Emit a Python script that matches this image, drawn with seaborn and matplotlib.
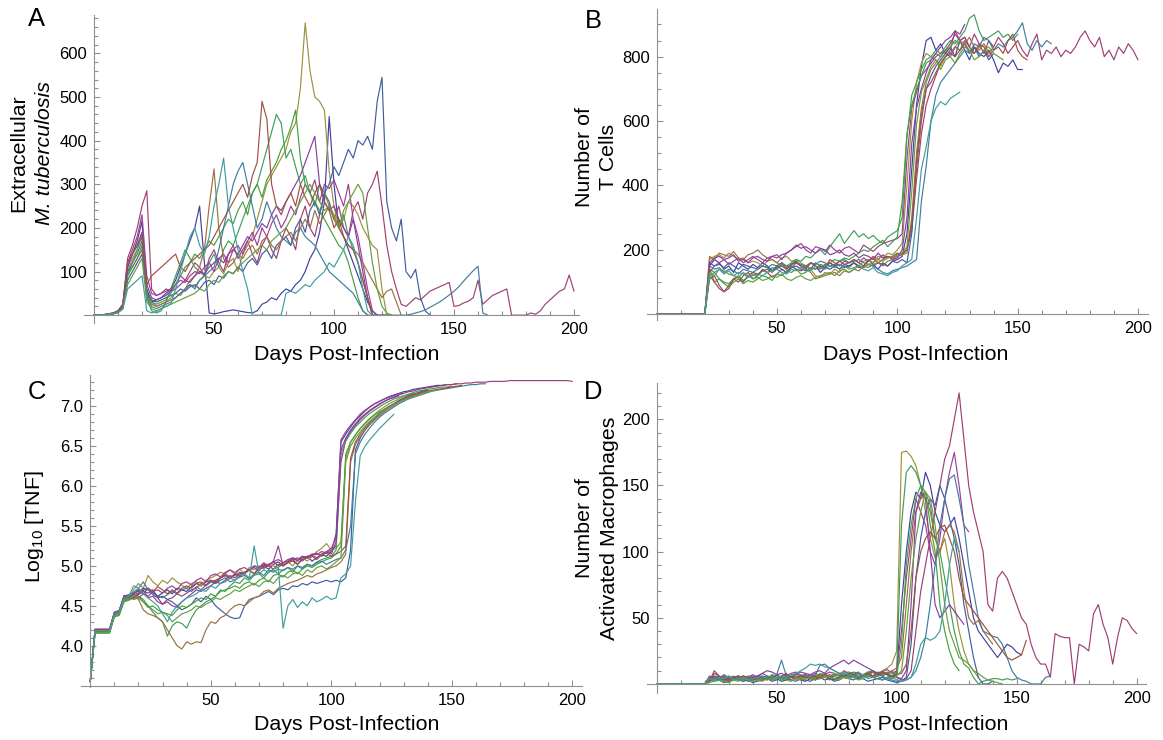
import colorsys
import matplotlib
matplotlib.use("Agg")
import matplotlib.pyplot as plt
from matplotlib.ticker import FixedLocator, FormatStrFormatter
import pandas as pd
import seaborn as sns

# ---------------- data ----------------
DAYS = list(range(0, 201, 2))          # sampling grid, every 2 days
RUNS = [f"run{i}" for i in range(13)]
HUES = [0.670, 0.906, 0.142, 0.378, 0.614, 0.850, 0.086, 0.322, 0.559, 0.795, 0.031, 0.267, 0.503]

# Panel A: extracellular M. tuberculosis
mtb_0 = [0,0,1,2,4,8,22,110,140,170, 215,60,30,35,40,50,60,80,110,140, 170,200,250,120,5,3,5,8,10,12,
         10,8,6,5,10,25,30,40,35,50, 60,55,70,80,100,130,150,190,260,455, 300,200,180,150,120,90,60,30,10,0, 0,0,0]
mtb_1 = [0,0,1,3,5,10,25,130,160,200, 250,285,60,45,50,60,55,70,90,80, 100,120,110,90,130,150,120,100,140,160,
         130,150,170,140,120,160,180,150,130,170, 200,180,150,220,250,200,180,230,280,260,
         220,250,200,180,240,260,220,280,300,330, 250,160,100,60,25,20,30,40,35,45,
         55,60,65,70,75,20,22,28,32,40, 80,25,35,45,50,55,60,0,0,0, 0,5,2,10,25,35,45,55,60,92, 55]
mtb_2 = [0,0,1,2,4,9,20,100,130,150, 180,50,30,20,25,30,40,50,45,60, 70,65,80,90,85,100,110,95,120,130,
         100,140,160,180,220,260,300,320,340,360, 380,420,440,520,670,560,500,490,470,330,
         250,200,220,260,250,230,200,180,160,150, 60,0,0]
mtb_3 = [0,0,1,2,4,7,18,90,110,130, 160,40,10,5,10,30,60,90,120,150, 130,110,100,90,120,140,110,150,170,160,
         190,220,250,280,300,340,380,420,460,440, 360,380,340,300,320,280,250,300,280,250,
         220,200,230,180,150,120,80,40,0,0]
mtb_4 = [0,0,1,2,3,6,15,80,100,120, 140,50,35,30,35,40,45,50,60,55, 65,70,60,75,80,70,90,85,100,95,
         110,100,120,130,115,140,150,130,160,170, 180,160,200,220,190,240,260,230,280,300,
         340,320,350,380,360,400,390,410,380,490, 545,260,200,170,220,100,85,105,40,10, 0]
mtb_5 = [0,0,1,3,5,9,22,120,150,180, 230,90,50,45,50,55,60,70,80,75, 90,100,95,110,120,100,130,140,120,150,
         160,140,170,190,160,200,180,210,230,200, 220,250,230,270,300,280,310,260,300,290,
         310,280,250,300,220,180,120,60,10,0]
mtb_6 = [0,0,1,2,4,8,20,100,110,130, 150,45,25,20,25,30,35,40,50,60, 80,90,110,150,250,335,200,130,110,120,
         140,130,150,160,140,170,180,160,150,170, 180,190,170,200,220,200,240,210,230,250,
         220,200,180,160,150,140,120,100,80,60, 40,55,60,30,0]
mtb_7 = [0,0,1,2,3,6,15,90,120,150, 190,45,30,25,30,35,50,70,90,110, 120,140,130,150,170,160,180,200,220,210,
         240,260,230,280,300,270,310,330,350,380, 400,430,470,360,300,280,260,240,220,200,
         180,160,150,120,80,40,10,0]
mtb_8 = [0,0,1,2,4,8,20,100,120,140, 170,40,20,15,20,25,30,40,50,60, 70,60,80,90,100,110,150,200,250,300,
         330,350,300,250,200,220,260,230,200,180, 170,160,190,200,180,170,160,140,120,100,
         90,80,70,60,50,30,10,0,0,0, 0,0,0,0,0,0,2,5,8,12, 18,24,30,38,46,55,65,78,90,102, 112,5,0]
mtb_9 = [0,0,1,2,4,8,20,110,140,160, 190,70,40,35,40,45,55,60,70,80, 75,90,100,95,110,120,130,120,140,150,
         140,160,180,170,190,210,200,230,250,240, 260,280,300,320,350,380,410,300,260,240,
         250,220,200,180,220,160,100,40,0,0]
mtb_10 = [0,0,1,3,5,10,25,120,140,160, 180,70,90,100,110,120,130,140,110,100, 120,130,140,150,160,180,200,220,240,260,
          280,300,270,320,350,490,450,300,250,230, 260,280,250,300,270,250,280,300,260,240,
          200,220,180,160,150,120,80,40,0,0]
mtb_11 = [0,0,1,2,3,6,15,70,90,110, 130,30,15,10,15,20,25,30,35,40, 45,50,60,55,70,80,75,90,100,95,
          110,120,130,140,150,160,150,170,180,190, 200,220,240,260,280,300,280,260,240,250,
          230,200,240,260,280,300,280,200,120,60, 20,5,0]
mtb_12 = [0,0,1,2,3,6,14,60,70,80, 90,10,5,8,15,20,25,60,100,140, 180,200,160,140,180,250,300,360,250,200,
          150,100,60,0,0,0,0,0,0,0, 50,55,50,60,70,65,80,90,100,120, 110,130,150,180,160,120,60,10,0,0]

# Panel B: number of T cells
tcell_0 = [0,0,0,0,0,0,0,0,0,0,0, 150,170,160,140,150,130,160,150,140,155, 145,160,150,135,150,160,140,155,165,150,
           140,160,150,130,145,160,150,140,155,150, 160,145,150,170,155,140,160,150,165,170,
           180,250,450,650,770,850,860,820,840,810, 830,800,850,820,790,830,810,800,820,790, 750,780,770,790,760,760]
tcell_1 = [0,0,0,0,0,0,0,0,0,0,0, 110,120,90,70,80,110,100,120,130,110, 120,140,130,115,125,140,130,150,140,135,
           150,140,160,150,145,170,160,150,165,160, 170,160,175,165,180,170,185,175,180,190,
           185,200,260,420,560,650,700,740,780,800, 820,880,850,860,830,870,840,810,850,830,
           860,840,810,830,850,820,800,840,870,790, 820,810,830,800,820,810,830,860,880,850,
           830,860,800,820,790,830,810,840,820,790]
tcell_2 = [0,0,0,0,0,0,0,0,0,0,0, 170,180,185,175,190,180,170,175,160,165, 160,150,165,170,160,175,180,165,170,160,
           150,140,120,115,130,125,140,130,150,145, 160,150,165,170,160,180,175,190,185,200,
           220,400,600,720,780,810,800,790,770,800, 810,830,850,840,820,810,830]
tcell_3 = [0,0,0,0,0,0,0,0,0,0,0, 140,130,110,100,95,110,120,105,115,125, 120,135,130,145,140,155,150,160,170,165,
           180,175,190,200,185,210,230,250,220,240, 260,240,250,235,245,230,220,240,250,260,
           300,550,680,720,760,790,800,820,810,830, 850,840,860,880,920,930,880,850,860,870, 880,860,870,850,870]
tcell_4 = [0,0,0,0,0,0,0,0,0,0,0, 160,150,155,145,160,150,140,155,150,145, 140,150,145,135,150,140,130,145,150,140,
           135,145,140,150,145,140,150,155,145,150, 160,150,145,155,150,160,155,150,165,160,
           170,160,250,480,620,700,740,770,790,810, 800,830,820,840,810,830,800,820,790,810]
tcell_5 = [0,0,0,0,0,0,0,0,0,0,0, 130,150,160,170,155,165,175,160,170,180, 170,160,175,180,185,170,190,200,210,220,
           200,190,210,205,195,215,200,190,205,210, 200,190,215,205,195,210,220,225,230,235,
           250,480,640,690,740,760,780,800,810,820, 840,870,850,860,830]
tcell_6 = [0,0,0,0,0,0,0,0,0,0,0, 180,170,190,185,180,195,175,170,185,190, 200,185,175,170,160,150,145,155,160,150,
           140,130,110,115,120,125,130,120,135,130, 140,135,150,145,155,160,150,165,170,180,
           185,190,300,500,640,720,760,780,800,820, 810,830,820,840,860,830,820,840,810,830]
tcell_7 = [0,0,0,0,0,0,0,0,0,0,0, 120,100,110,95,85,100,110,95,105,100, 110,120,115,105,125,120,135,130,140,125,
           130,145,140,155,150,160,170,165,175,170, 180,190,200,195,210,220,230,210,225,240,
           350,560,650,700,740,780,790,810,800,820, 830,850,840]
tcell_8 = [0,0,0,0,0,0,0,0,0,0,0, 150,140,145,130,140,135,125,140,135,130, 140,150,145,155,150,160,150,145,160,155,
           150,160,155,165,160,150,155,165,170,160, 165,170,160,155,150,140,130,125,135,140,
           145,150,160,170,350,460,600,680,720,740, 760,780,800,820,810,840,830,860,850,820,
           840,830,850,860,880,905,840,820,850,830, 850,840]
tcell_9 = [0,0,0,0,0,0,0,0,0,0,0, 160,175,180,170,175,185,165,170,160,175, 180,170,165,180,175,185,190,200,215,205,
           210,200,190,205,200,185,190,200,185,180, 190,175,185,180,170,190,175,180,170,175,
           200,300,530,640,700,750,790,810,830,850, 860,880,870,900]
tcell_10 = [0,0,0,0,0,0,0,0,0,0,0, 140,100,80,70,90,110,115,100,120,130, 125,135,140,130,145,150,140,155,160,150,
            145,160,150,140,155,160,150,165,155,160, 170,160,150,165,175,160,170,180,175,185,
            190,200,280,450,600,700,720,750,780,800, 810,800,820,850,830,810,840,830,800,820, 830,810,850,870,820,800,790]
tcell_11 = [0,0,0,0,0,0,0,0,0,0,0, 130,120,140,135,125,120,115,130,120,110, 115,105,110,120,115,125,110,105,115,120,
            110,105,115,120,125,130,120,135,140,130, 140,150,145,155,160,170,165,175,180,185,
            190,210,380,590,690,730,770,790,760,790, 800,780,810,830,820,790,800,820,830,810, 800,790]
tcell_12 = [0,0,0,0,0,0,0,0,0,0,0, 120,130,140,125,135,120,130,125,115,120, 125,120,130,135,140,130,125,140,135,145,
            140,135,150,145,140,150,145,155,150,140, 145,150,140,135,145,130,125,120,130,135,
            150,160,170,300,450,520,600,640,660,650, 670,680,690]

# Panel C: log10 [TNF]
tnf_0 = [3.55,4.2,4.2,4.2,4.2,4.42,4.44,4.62,4.6,4.65, 4.7,4.65,4.72,4.68,4.62,4.66,4.7,4.65,4.72,4.7,
         4.68,4.74,4.78,4.75,4.8,4.82,4.78,4.85,4.88,4.84, 4.9,4.88,4.92,4.95,4.9,4.98,5.0,4.96,5.02,5.05,
         5.0,5.04,5.08,5.02,5.1,5.12,5.06,5.1,5.14,5.12, 5.18,5.4,6.55,6.65,6.74,6.82,6.88,6.94,6.99,7.03,
         7.06,7.09,7.12,7.14,7.16,7.18,7.19,7.21,7.22,7.23, 7.24,7.25,7.26,7.26,7.27,7.27,7.28]
tnf_1 = [3.55,4.21,4.21,4.21,4.21,4.4,4.42,4.6,4.58,4.62, 4.65,4.7,4.6,4.62,4.55,4.52,4.58,4.6,4.65,4.62,
         4.66,4.7,4.72,4.78,4.75,4.8,4.82,4.85,4.9,4.86, 4.88,4.92,4.9,4.95,5.0,4.98,5.02,5.0,5.05,5.08,
         5.04,5.06,5.1,5.08,5.12,5.1,5.15,5.14,5.18,5.16, 5.2,5.25,6.3,6.58,6.68,6.76,6.83,6.89,6.94,6.98,
         7.02,7.06,7.09,7.11,7.14,7.16,7.18,7.19,7.21,7.22, 7.23,7.24,7.25,7.26,7.27,7.27,7.28,7.28,7.29,7.29,
         7.3,7.3,7.3,7.31,7.31,7.31,7.31,7.32,7.32,7.32, 7.32,7.32,7.32,7.32,7.32,7.32,7.32,7.32,7.32,7.32,7.31]
tnf_2 = [3.55,4.17,4.17,4.17,4.17,4.38,4.4,4.58,4.6,4.7, 4.78,4.72,4.88,4.8,4.75,4.82,4.78,4.85,4.8,4.76,
         4.72,4.78,4.8,4.75,4.82,4.85,4.88,4.92,4.9,4.95, 4.92,4.96,4.9,4.98,4.95,5.0,4.96,5.02,5.0,4.98,
         5.02,5.05,5.0,5.08,5.1,5.06,5.12,5.18,5.22,5.28, 5.2,5.22,5.3,6.35,6.55,6.64,6.72,6.79,6.85,6.9,
         6.95,6.99,7.03,7.06,7.09,7.12,7.14,7.16]
tnf_3 = [3.55,4.16,4.16,4.16,4.16,4.36,4.38,4.55,4.57,4.6, 4.62,4.58,4.5,4.42,4.35,4.3,4.12,4.25,4.3,4.28,
         4.22,4.35,4.45,4.5,4.55,4.58,4.62,4.7,4.68,4.75, 4.8,4.78,4.85,4.82,4.88,4.9,4.85,4.92,4.95,4.9,
         4.95,4.98,4.92,5.0,4.96,5.02,5.0,5.05,5.08,5.1, 5.12,5.2,6.4,6.56,6.66,6.74,6.8,6.86,6.91,6.95,
         6.99,7.03,7.06,7.09,7.11,7.13,7.15,7.17,7.19,7.2, 7.21,7.22,7.23,7.24,7.24,7.25]
tnf_4 = [3.55,4.2,4.2,4.2,4.2,4.4,4.43,4.62,4.64,4.66, 4.68,4.72,4.7,4.64,4.6,4.62,4.58,4.55,4.5,4.45,
         4.48,4.52,4.6,4.55,4.62,4.58,4.5,4.45,4.4,4.36, 4.34,4.35,4.5,4.58,4.6,4.62,4.65,4.68,4.64,4.7,
         4.72,4.7,4.75,4.74,4.78,4.76,4.8,4.78,4.8,4.82, 4.8,4.82,4.8,4.85,5.2,6.45,6.6,6.7,6.78,6.84,
         6.9,6.95,6.99,7.03,7.07,7.1,7.13,7.15,7.17,7.19, 7.2]
tnf_5 = [3.55,4.19,4.19,4.19,4.19,4.41,4.43,4.6,4.62,4.58, 4.6,4.65,4.62,4.68,4.7,4.66,4.72,4.75,4.7,4.78,
         4.8,4.76,4.82,4.85,4.8,4.88,4.9,4.86,4.92,4.95, 4.9,4.96,4.98,4.94,5.0,4.98,5.04,5.0,5.06,5.25,
         5.0,5.05,5.08,5.1,5.06,5.12,5.14,5.1,5.15,5.18, 5.22,5.35,6.58,6.68,6.76,6.83,6.9,6.95,6.99,7.03,
         7.06,7.09,7.11,7.13,7.15,7.16]
tnf_6 = [3.55,4.18,4.18,4.18,4.18,4.39,4.41,4.58,4.6,4.62, 4.58,4.45,4.4,4.38,4.35,4.3,4.2,4.1,4.0,3.96,
         4.05,4.02,4.05,4.04,4.2,4.3,4.28,4.35,4.38,4.45, 4.5,4.52,4.5,4.55,4.6,4.62,4.68,4.7,4.66,4.72,
         4.75,4.78,4.8,4.82,4.85,4.88,4.86,4.9,4.92,4.95, 4.98,5.0,5.05,5.15,6.3,6.52,6.62,6.7,6.77,6.83,
         6.88,6.93,6.97,7.01,7.05,7.08,7.11,7.13,7.15,7.17, 7.18]
tnf_7 = [3.55,4.16,4.16,4.16,4.16,4.37,4.39,4.56,4.58,4.6, 4.62,4.55,4.48,4.5,4.45,4.42,4.4,4.38,4.45,4.5,
         4.48,4.52,4.56,4.6,4.58,4.65,4.62,4.68,4.7,4.72, 4.75,4.72,4.78,4.8,4.76,4.82,4.85,4.8,4.88,4.9,
         4.86,4.92,4.95,4.9,4.96,5.0,4.98,5.02,5.05,5.08, 5.1,5.15,5.25,6.4,6.55,6.64,6.72,6.78,6.84,6.89,
         6.93,6.96,6.99,7.02]
tnf_8 = [3.55,4.2,4.2,4.2,4.2,4.42,4.44,4.61,4.63,4.67, 4.72,4.8,4.7,4.66,4.62,4.6,4.64,4.68,4.65,4.7,
         4.72,4.68,4.74,4.7,4.76,4.8,4.78,4.82,4.85,4.8, 4.82,4.86,4.88,4.84,4.9,4.92,4.88,4.95,4.92,4.96,
         4.94,4.98,4.96,5.0,4.98,5.02,5.0,5.04,5.06,5.02, 5.05,5.08,5.1,5.2,5.5,6.4,6.55,6.65,6.73,6.8,
         6.86,6.91,6.95,6.99,7.03,7.06,7.09,7.11,7.13,7.15, 7.17,7.19,7.2,7.21,7.22,7.23,7.24,7.25,7.26,7.27,
         7.27,7.28,7.28]
tnf_9 = [3.55,4.2,4.2,4.2,4.2,4.41,4.43,4.63,4.62,4.6, 4.64,4.68,4.66,4.7,4.6,4.52,4.55,4.5,4.48,4.55,
         4.6,4.65,4.7,4.68,4.72,4.75,4.8,4.78,4.82,4.88, 4.85,4.9,4.92,4.95,4.98,4.94,5.0,5.02,5.05,5.0,
         5.04,5.08,5.1,5.06,5.12,5.1,5.14,5.16,5.12,5.18, 5.15,5.3,6.45,6.6,6.7,6.78,6.85,6.9,6.95,6.99,
         7.03,7.06,7.09,7.11,7.13]
tnf_10 = [3.55,4.18,4.18,4.18,4.18,4.4,4.42,4.59,4.61,4.64, 4.66,4.7,4.72,4.68,4.74,4.7,4.65,4.7,4.66,4.72,
          4.75,4.72,4.78,4.8,4.76,4.82,4.8,4.85,4.88,4.84, 4.9,4.86,4.92,4.95,4.9,4.96,4.98,5.0,4.96,5.02,
          5.0,5.04,5.06,5.02,5.08,5.1,5.12,5.08,5.14,5.16, 5.12,5.15,5.18,5.25,6.35,6.55,6.65,6.73,6.8,6.86,
          6.91,6.96,7.0,7.03,7.06,7.09,7.12,7.14,7.16,7.18, 7.19,7.2,7.21,7.22,7.23,7.24,7.25,7.26]
tnf_11 = [3.55,4.17,4.17,4.17,4.17,4.37,4.4,4.57,4.59,4.62, 4.6,4.55,4.5,4.45,4.4,4.42,4.38,4.3,4.35,4.4,
          4.42,4.45,4.5,4.48,4.52,4.55,4.6,4.58,4.62,4.65, 4.7,4.68,4.72,4.75,4.78,4.74,4.8,4.82,4.78,4.85,
          4.88,4.85,4.9,4.92,4.88,4.95,4.92,4.98,5.0,4.96, 5.0,5.05,5.1,6.3,6.5,6.6,6.68,6.75,6.81,6.86,
          6.91,6.95,6.99,7.02,7.05,7.08,7.1,7.12,7.14,7.16, 7.18,7.19,7.2]
tnf_12 = [3.55,4.19,4.19,4.19,4.19,4.4,4.42,4.6,4.62,4.75, 4.72,4.65,4.6,4.55,4.5,4.4,4.3,4.42,4.5,4.55,
          4.6,4.62,4.65,4.7,4.68,4.75,4.72,4.78,4.8,4.85, 4.82,4.88,4.9,4.85,5.25,4.9,4.95,4.92,4.96,4.98,
          4.22,4.5,4.58,4.48,4.55,4.5,4.6,4.55,4.58,4.62, 4.58,4.6,4.85,4.9,5.0,5.8,6.38,6.5,6.58,6.65,
          6.72,6.78,6.84,6.9]

# Panel D: number of activated macrophages
mac_0 = [0,0,0,0,0,0,0,0,0,0,0, 5,3,4,6,2,3,5,4,2,3, 4,3,5,6,4,2,3,5,4,3, 2,4,3,5,6,4,3,5,7,6,
         5,4,6,8,5,4,3,5,6,8, 60,100,130,145,140,160,150,130,120,115, 120,126,110,90,70,50,40,35,30,25, 20,25,30,28,24,22]
mac_1 = [0,0,0,0,0,0,0,0,0,0,0, 2,8,6,4,3,5,6,4,3,5, 6,4,5,3,4,6,8,5,4,6, 7,5,6,4,5,7,6,8,5,6,
         7,5,6,8,9,7,6,8,10,5, 3,4,10,40,70,90,110,130,150,170, 180,200,220,185,150,130,115,100,60,55,
         80,85,80,70,60,50,45,30,20,15, 15,5,38,36,35,35,0,30,28,25, 53,60,45,35,15,35,50,48,42,38]
mac_2 = [0,0,0,0,0,0,0,0,0,0,0, 3,5,4,2,6,5,3,4,5,6, 4,3,6,5,7,4,5,3,6,4, 5,7,6,4,5,3,6,8,5,4,
         6,5,7,9,6,8,10,12,15,25, 175,176,172,165,150,130,110,95,100,110, 90,60,40,25,15,10,5]
mac_3 = [0,0,0,0,0,0,0,0,0,0,0, 4,2,3,5,4,6,3,2,4,5, 3,5,4,6,5,3,4,6,5,7, 6,4,5,7,8,5,6,4,7,5,
         6,8,5,7,6,9,8,7,5,10, 120,160,165,160,150,140,130,110,100,80, 60,40,25,15,12,5,0,2,3,4, 4,3,4,3,4]
mac_4 = [0,0,0,0,0,0,0,0,0,0,0, 2,4,3,1,2,3,4,2,3,1, 2,3,4,2,3,5,4,3,2,4, 3,2,4,5,3,4,2,3,5,4,
         3,5,4,2,3,4,5,3,2,1, 2,5,30,80,110,130,140,135,150,140, 125,110,90,60,40,20,5,0,0,2]
mac_5 = [0,0,0,0,0,0,0,0,0,0,0, 6,5,4,7,5,3,6,4,5,7, 5,8,6,4,7,5,6,8,9,6, 7,5,8,6,7,9,8,6,10,8,
         7,9,6,8,10,7,9,11,8,10, 40,80,110,140,130,120,100,90,110,140, 160,175,150,120,115]
mac_6 = [0,0,0,0,0,0,0,0,0,0,0, 3,4,5,3,2,4,5,6,4,3, 5,4,3,6,5,4,7,5,6,4, 6,5,4,7,6,5,8,6,5,7,
         6,8,7,5,9,6,8,7,10,12, 20,60,100,130,140,145,135,110,100,115, 120,115,100,70,50,45,48,40,35,30]
mac_7 = [0,0,0,0,0,0,0,0,0,0,0, 5,4,6,3,5,4,3,6,5,4, 6,5,4,7,6,5,4,6,8,5, 6,7,5,8,6,5,7,6,8,9,
         8,6,7,9,10,8,7,9,8,6, 30,90,120,140,150,145,120,100,60,40, 25,15,10]
mac_8 = [0,0,0,0,0,0,0,0,0,0,0, 3,5,4,6,4,5,3,4,6,5, 4,6,5,4,7,18,6,5,4,6, 5,7,6,14,15,12,10,8,6,7,
         9,8,6,7,5,8,6,4,3,2, 2,3,5,10,20,35,60,90,120,140, 155,158,140,120,90,70,50,40,38,36,
         35,30,20,10,5,3,2,0,0,0, 5,6]
mac_9 = [0,0,0,0,0,0,0,0,0,0,0, 4,6,5,3,4,5,6,4,3,5, 6,8,10,9,7,8,6,5,7,9, 8,7,9,10,8,12,14,16,18,15,
         18,16,14,12,10,8,9,7,6,5, 4,10,60,130,145,140,100,60,50,55, 60,55,50,45]
mac_10 = [0,0,0,0,0,0,0,0,0,0,0, 2,10,6,4,3,5,4,6,5,3, 4,5,3,6,4,5,7,5,4,6, 5,4,6,5,7,6,4,5,6,8,
          7,5,6,8,6,7,9,8,6,7, 8,15,40,80,100,110,115,110,118,120, 110,100,80,65,60,55,50,45,40,35, 30,25,20,18,20,22,33]
mac_11 = [0,0,0,0,0,0,0,0,0,0,0, 1,2,3,2,1,3,2,4,3,2, 3,2,4,3,5,4,3,2,4,3, 4,5,3,4,6,5,4,3,5,4,
          5,3,4,6,5,4,3,5,4,6, 10,40,80,110,130,145,140,120,90,60, 40,30,20,18,15,10,8,5,3,2, 1,0]
mac_12 = [0,0,0,0,0,0,0,0,0,0,0, 4,3,5,4,6,3,4,5,3,4, 5,4,6,5,4,6,5,7,8,10, 12,15,14,15,13,12,10,8,9,7,
          6,5,7,4,5,6,3,4,5,3, 2,3,5,15,30,35,33,35,40,60, 90,110,100]

# tick values
X_MAJOR = [50, 100, 150, 200]
A_YMAJOR = [100, 200, 300, 400, 500, 600]
B_YMAJOR = [200, 400, 600, 800]
C_YMAJOR = [4.0, 4.5, 5.0, 5.5, 6.0, 6.5, 7.0]
D_YMAJOR = [50, 100, 150, 200]

# ---------------- styling ----------------
sns.set_style("white")
plt.rcParams["font.family"] = ["Liberation Sans", "DejaVu Sans"]
plt.rcParams["mathtext.default"] = "regular"
plt.rcParams["text.color"] = "black"
plt.rcParams["xtick.color"] = "black"
plt.rcParams["ytick.color"] = "black"

PALETTE = {r: colorsys.hsv_to_rgb(h, 0.6, 0.62) for r, h in zip(RUNS, HUES)}
AXIS_GRAY = "#8f8f8f"
W, H = 1163, 740
fig = plt.figure(figsize=(W / 100, H / 100), dpi=100)
fig.patch.set_facecolor("white")


def add_axes(l, r, t, b):
    return fig.add_axes([l / W, 1 - b / H, (r - l) / W, (b - t) / H])


def draw(ax, series):
    frames = []
    for name, vals in zip(RUNS, series):
        frames.append(pd.DataFrame({"day": DAYS[:len(vals)], "value": vals, "run": name}))
    df = pd.concat(frames, ignore_index=True)
    sns.lineplot(data=df, x="day", y="value", hue="run", hue_order=RUNS, palette=PALETTE,
                 estimator=None, sort=False, legend=False, linewidth=0.85, ax=ax)


def style(ax, xlim, ylim, yorigin, ymajor, yminor, yfmt):
    ax.set_xlim(*xlim)
    ax.set_ylim(*ylim)
    ax.patch.set_alpha(0)
    for s in ["top", "right"]:
        ax.spines[s].set_visible(False)
    ax.spines["left"].set_position(("data", 0))
    ax.spines["bottom"].set_position(("data", yorigin))
    for s in ["left", "bottom"]:
        ax.spines[s].set_color(AXIS_GRAY)
        ax.spines[s].set_linewidth(0.8)
    ax.xaxis.set_major_locator(FixedLocator(X_MAJOR))
    ax.xaxis.set_minor_locator(FixedLocator([d for d in range(10, 201, 10) if d % 50]))
    ax.yaxis.set_major_locator(FixedLocator(ymajor))
    ax.yaxis.set_minor_locator(FixedLocator(yminor))
    ax.yaxis.set_major_formatter(FormatStrFormatter(yfmt))
    ax.tick_params(which="both", direction="in", color=AXIS_GRAY, width=0.8,
                   bottom=True, left=True, top=False, right=False)
    ax.tick_params(which="major", length=4.5, labelsize=12, pad=5, labelcolor="black")
    ax.tick_params(which="minor", length=2.6)
    ax.set_xlabel("")
    ax.set_ylabel("")


def ftext(x, y, s, **kw):
    fig.text(x / W, 1 - y / H, s, ha="center", va="center", color="black", **kw)


LAB = 15.4

# A
axA = add_axes(84.4, 578.8, 15, 323)
draw(axA, [mtb_0, mtb_1, mtb_2, mtb_3, mtb_4, mtb_5, mtb_6, mtb_7, mtb_8, mtb_9, mtb_10, mtb_11, mtb_12])
style(axA, (-4, 202), (-18, 688), 0, A_YMAJOR, [v for v in range(20, 681, 20) if v % 100], "%d")

# B
axB = add_axes(647, 1147.6, 9.3, 320.1)
draw(axB, [tcell_0, tcell_1, tcell_2, tcell_3, tcell_4, tcell_5, tcell_6, tcell_7, tcell_8, tcell_9,
           tcell_10, tcell_11, tcell_12])
style(axB, (-4, 204), (-18, 947), 0, B_YMAJOR, [v for v in range(50, 901, 50) if v % 200], "%d")

# C
axC = add_axes(80.6, 582, 375, 687.3)
draw(axC, [tnf_0, tnf_1, tnf_2, tnf_3, tnf_4, tnf_5, tnf_6, tnf_7, tnf_8, tnf_9, tnf_10, tnf_11, tnf_12])
style(axC, (-4, 204), (3.48, 7.39), 3.5, C_YMAJOR,
      [k / 10 for k in range(36, 74) if k % 5], "%.1f")

# D
axD = add_axes(647.1, 1146.3, 382.7, 693.2)
draw(axD, [mac_0, mac_1, mac_2, mac_3, mac_4, mac_5, mac_6, mac_7, mac_8, mac_9, mac_10, mac_11, mac_12])
style(axD, (-4, 204), (-7, 227.7), 0, D_YMAJOR, [v for v in range(10, 221, 10) if v % 50], "%d")

# axis titles
ftext(347, 355, "Days Post-Infection", fontsize=LAB)
ftext(916, 355, "Days Post-Infection", fontsize=LAB)
ftext(347, 725, "Days Post-Infection", fontsize=LAB)
ftext(916, 725, "Days Post-Infection", fontsize=LAB)

ftext(19, 153, "Extracellular", fontsize=LAB, rotation=90)
ftext(44, 153, "M. tuberculosis", fontsize=LAB, rotation=90, style="italic")
ftext(585, 157, "Number of", fontsize=LAB, rotation=90)
ftext(609, 157, "T Cells", fontsize=LAB, rotation=90)
ftext(35, 527, "Log$_{10}$ [TNF]", fontsize=LAB, rotation=90)
ftext(585, 528, "Number of", fontsize=LAB, rotation=90)
ftext(610, 528, "Activated Macrophages", fontsize=LAB, rotation=90)

# panel letters
ftext(36, 19, "A", fontsize=18.4)
ftext(593, 21, "B", fontsize=18.4)
ftext(37, 392, "C", fontsize=18.4)
ftext(593, 392, "D", fontsize=18.4)

fig.savefig("out.png", dpi=100, facecolor="white")
